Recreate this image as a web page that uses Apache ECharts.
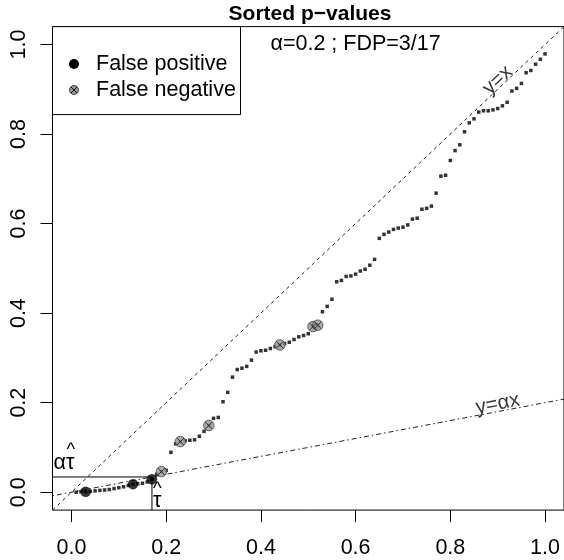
<!DOCTYPE html>
<html><head><meta charset="utf-8">
<script src="https://cdn.jsdelivr.net/npm/echarts@6/dist/echarts.min.js"></script>
<style>html,body{margin:0;padding:0;background:#fff}#c{width:564px;height:560px}</style>
</head><body><div id="c"></div>
<script>
// ---- data ----
const alpha = 0.2;
const tauHat = 0.17;
const m = 100;
const pValues = [
  0.000,0.001,0.001,0.002,0.003,0.004,0.005,0.006,0.008,0.010,
  0.012,0.015,0.018,0.019,0.020,0.023,0.029,0.040,0.046,0.049,
  0.089,0.108,0.113,0.115,0.116,0.117,0.125,0.136,0.149,0.165,
  0.167,0.202,0.223,0.257,0.274,0.277,0.281,0.295,0.313,0.316,
  0.317,0.321,0.325,0.329,0.332,0.335,0.341,0.347,0.350,0.354,
  0.370,0.373,0.403,0.415,0.431,0.470,0.473,0.482,0.483,0.487,
  0.494,0.498,0.507,0.520,0.567,0.576,0.581,0.587,0.590,0.592,
  0.597,0.610,0.612,0.632,0.634,0.639,0.668,0.706,0.708,0.741,
  0.763,0.776,0.805,0.825,0.834,0.849,0.852,0.852,0.854,0.857,
  0.863,0.871,0.896,0.902,0.913,0.937,0.942,0.956,0.967,0.979
];
const falsePositiveRanks = [3, 13, 17];
const falseNegativeRanks = [19, 23, 29, 44, 51, 52];
const xTicks = [0, 0.2, 0.4, 0.6, 0.8, 1.0];
const yTicks = [0, 0.2, 0.4, 0.6, 0.8, 1.0];
const titleText = 'Sorted p\u2212values';
const noteText = '\u03b1=0.2 ; FDP=3/17';
const legendLabels = ['False positive', 'False negative'];
const lineLabels = ['y=x', 'y=\u03b1x'];

// ---- layout / style ----
const X0 = -0.04, X1 = 1.04, Y0 = -0.04, Y1 = 1.04;
const FONT = '"Liberation Sans", Arial, Helvetica, sans-serif';
const FS = 21.5;

const pts = pValues.map((p, i) => [(i + 1) / m, p]);
const fp = falsePositiveRanks.map(r => pts[r - 1]);
const fn = falseNegativeRanks.map(r => pts[r - 1]);
const at = alpha * tauHat;

const chart = echarts.init(document.getElementById('c'), null, {renderer: 'canvas'});

const axisCommon = {
  type: 'value', splitLine: {show: false},
  axisLine: {show: false, onZero: false},
  axisTick: {show: true, length: 12, lineStyle: {color: '#000', width: 1}},
  axisLabel: {color: '#000', fontSize: FS, fontFamily: FONT, formatter: v => v.toFixed(1)}
};

chart.setOption({
  animation: false,
  backgroundColor: '#fff',
  grid: {left: 52.5, top: 26.6, width: 513.5, height: 483.5, show: true,
         borderColor: '#000', borderWidth: 1, containLabel: false},
  xAxis: Object.assign({}, axisCommon, {
    min: X0, max: X1,
    axisTick: Object.assign({}, axisCommon.axisTick, {customValues: xTicks}),
    axisLabel: Object.assign({}, axisCommon.axisLabel, {customValues: xTicks, margin: 27})
  }),
  yAxis: Object.assign({}, axisCommon, {
    min: Y0, max: Y1,
    axisTick: Object.assign({}, axisCommon.axisTick, {customValues: yTicks}),
    axisLabel: Object.assign({}, axisCommon.axisLabel, {customValues: yTicks, rotate: 90, margin: 22})
  }),
  series: [
    {type: 'line', data: [[X0, X0], [X1, X1]], symbol: 'none', silent: true, z: 1,
     lineStyle: {color: '#222', width: 1, type: [3.5, 3.5]}},
    {type: 'line', data: [[X0, alpha * X0], [X1, alpha * X1]], symbol: 'none', silent: true, z: 1,
     lineStyle: {color: '#222', width: 1, type: [1.5, 3, 5, 3]}},
    {type: 'line', data: [[X0, at], [tauHat, at]], symbol: 'none', silent: true, z: 1,
     lineStyle: {color: '#000', width: 1}},
    {type: 'line', data: [[tauHat, Y0], [tauHat, at]], symbol: 'none', silent: true, z: 1,
     lineStyle: {color: '#000', width: 1}},
    {type: 'scatter', data: pts, symbol: 'rect', symbolSize: 3.5, z: 3,
     itemStyle: {color: '#000'}},
    {type: 'scatter', data: fp, symbol: 'circle', symbolSize: 10.5, z: 4,
     itemStyle: {color: '#000'}},
    {type: 'scatter', data: fn, symbol: 'circle', symbolSize: 10.5, z: 4,
     itemStyle: {color: '#999', borderColor: '#444', borderWidth: 1}},
    {type: 'scatter', data: fn, symbol: 'path://M0,0L10,10M10,0L0,10', symbolSize: 7, z: 5,
     itemStyle: {color: 'transparent', borderColor: '#111', borderWidth: 1}},
    {type: 'scatter', data: [[0.90, 0.92]], symbolSize: 0, z: 6, silent: true,
     label: {show: true, position: 'inside', formatter: lineLabels[0], rotate: 43.3,
             color: '#000', fontSize: FS - 1, fontFamily: FONT}},
    {type: 'scatter', data: [[0.90, 0.197]], symbolSize: 0, z: 6, silent: true,
     label: {show: true, position: 'inside', formatter: lineLabels[1], rotate: 10.7,
             color: '#000', fontSize: FS - 1, fontFamily: FONT}}
  ]
});

// annotations placed from data coordinates
const px = (x, y) => chart.convertToPixel({gridIndex: 0}, [x, y]);
const pTau = px(tauHat, Y0);
const pAT = px(X0, at);
const pNote = px(0.6, 1.0);
const gl = [];
const txt = (x, y, text, extra) => Object.assign({type: 'text', x: x, y: y, z: 10,
  style: Object.assign({text: text, fill: '#000', fontSize: FS, fontFamily: FONT,
                        align: 'left', verticalAlign: 'middle'}, extra || {})});
gl.push(txt(310, 14, titleText, {align: 'center', fontWeight: 'bold', fontSize: 21}));
gl.push(txt(pNote[0], pNote[1], noteText, {align: 'center'}));
// legend box
gl.push({type: 'rect', z: 9, shape: {x: 52.5, y: 26.6, width: 188, height: 88},
         style: {fill: '#fff', stroke: '#000', lineWidth: 1}});
gl.push({type: 'circle', z: 10, shape: {cx: 74, cy: 64, r: 5}, style: {fill: '#000'}});
gl.push({type: 'circle', z: 10, shape: {cx: 74, cy: 90, r: 4.5}, style: {fill: '#999', stroke: '#444', lineWidth: 1}});
gl.push({type: 'polyline', z: 11, shape: {points: [[71, 87], [77, 93]]}, style: {stroke: '#111', lineWidth: 1}});
gl.push({type: 'polyline', z: 11, shape: {points: [[77, 87], [71, 93]]}, style: {stroke: '#111', lineWidth: 1}});
gl.push(txt(96, 64, legendLabels[0]));
gl.push(txt(96, 90, legendLabels[1]));
// tau-hat labels
gl.push(txt(pTau[0] + 1, pTau[1] - 9, '\u03c4', {fontSize: FS}));
gl.push(txt(pTau[0] + 1, pTau[1] - 21, '^', {fontSize: FS - 3}));
gl.push(txt(pAT[0] + 1, pAT[1] - 14, '\u03b1\u03c4', {fontSize: FS}));
gl.push(txt(pAT[0] + 14, pAT[1] - 27, '^', {fontSize: FS - 3}));
chart.setOption({graphic: gl});
</script>
</body></html>
